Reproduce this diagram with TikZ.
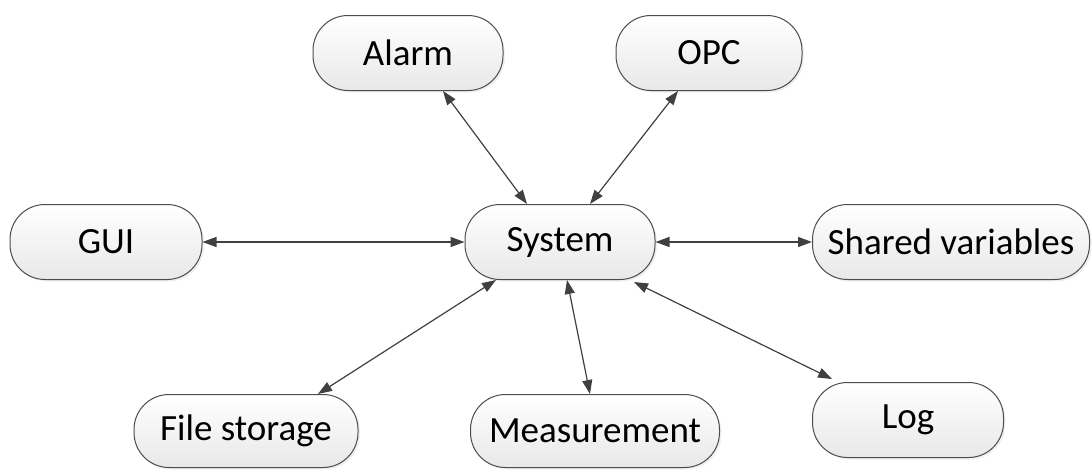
\documentclass[tikz,border=0pt]{standalone}
\usepackage{fontspec}
\setmainfont{Carlito}
\usetikzlibrary{arrows.meta,shadows}
\tikzset{
	module/.style = {draw=black!70, line width=1pt, rounded corners=35pt,
		top color=white, bottom color=black!9, minimum height=75pt,
		inner sep=0pt, drop shadow={opacity=.12, shadow xshift=2pt, shadow yshift=-2pt}},
	link/.style = {<->, draw=black!75, line width=1.2pt},
}

\begin{document}
\begin{tikzpicture}[x=1pt, y=-1pt, font=\fontsize{37}{40}\selectfont, >={Triangle[length=14pt,width=10pt]}]
	\useasboundingbox (0,0) rectangle (1092,469);
	% modules round the system
	\node[module, minimum width=190pt] (alarm) at (408,53) {Alarm};
	\node[module, minimum width=186pt] (opc) at (709,53) {OPC};
	\node[module, minimum width=192pt] (gui) at (106,242) {GUI};
	\node[module, minimum width=190pt] (sys) at (560,242) {System};
	\node[module, minimum width=277pt] (shared) at (951,242) {Shared variables};
	\node[module, minimum width=224pt, minimum height=73pt] (files) at (246,431) {File storage};
	\node[module, minimum width=249pt, minimum height=73pt] (meas) at (595,431) {Measurement};
	\node[module, minimum width=191pt] (log) at (908,420) {Log};
	% links
	\draw[link] ([xshift=35pt]alarm.south) -- ([xshift=-33pt]sys.north);
	\draw[link] ([xshift=-31pt]opc.south) -- ([xshift=30pt]sys.north);
	\draw[link] (gui.east) -- (sys.west);
	\draw[link] (sys.east) -- (shared.west);
	\draw[link] ([xshift=72pt]files.north) -- ([xshift=-64pt]sys.south);
	\draw[link] ([xshift=-5pt]meas.north) -- ([xshift=7pt]sys.south);
	\draw[link] ([xshift=-76pt,yshift=3pt]log.north) -- ([xshift=74pt,yshift=-2pt]sys.south);
\end{tikzpicture}
\end{document}
